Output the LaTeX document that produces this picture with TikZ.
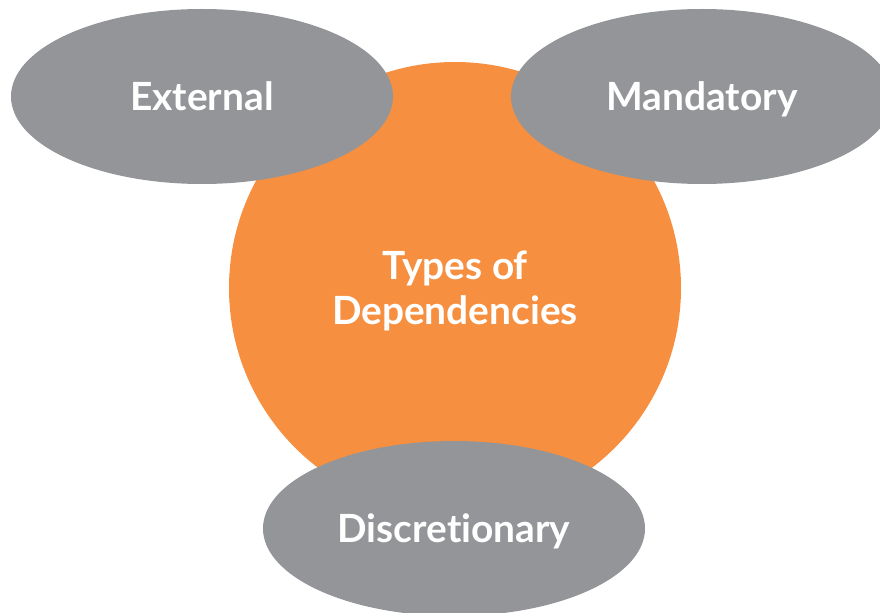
\documentclass[tikz,border=0pt]{standalone}
\usepackage{fontspec}
\setmainfont{Lato}[Ligatures=NoCommon]
\usetikzlibrary{shapes.geometric}

\definecolor{deporange}{RGB}{246,143,64}
\definecolor{depgray}{RGB}{147,149,152}

\begin{document}
\begin{tikzpicture}[x=1bp,y=-1bp,
    every node/.style={text=white, font=\fontsize{39}{45}\selectfont\bfseries, inner sep=0pt},
    hub/.style={circle, fill=deporange, minimum size=452bp, align=center, text depth=0pt},
    kind/.style={ellipse, fill=depgray, minimum width=382bp, minimum height=175bp, text depth=0pt}]
    \useasboundingbox (0,0) rectangle (880,613);
    \clip (0,0) rectangle (880,613);
    \node[hub] (types) at (455,288) {Types of\\Dependencies};
    \node[kind] (ext) at (202,96.5) {External};
    \node[kind] (mand) at (702,96.5) {Mandatory};
    \node[kind] (disc) at (454,528.5) {Discretionary};
  \end{tikzpicture}
\end{document}
